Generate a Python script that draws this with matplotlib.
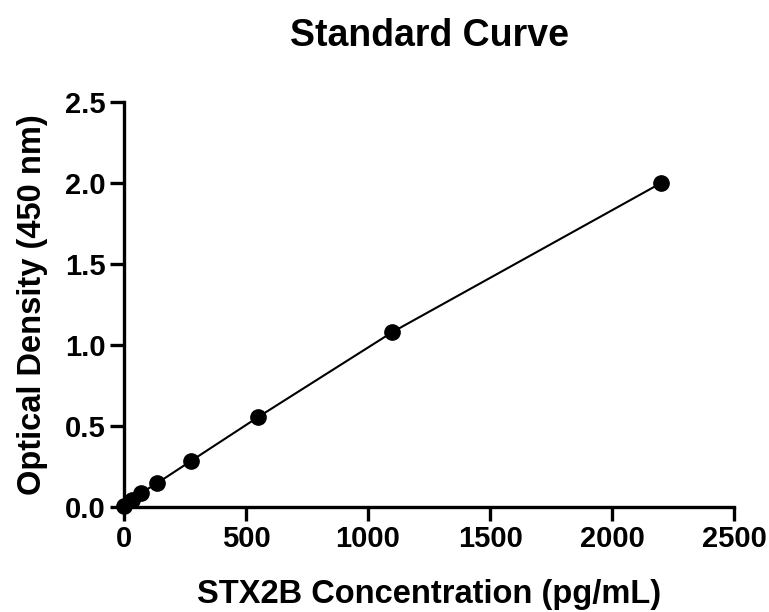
import matplotlib
matplotlib.use("Agg")
import matplotlib.pyplot as plt

# Standard dilution series (pg/mL) and measured OD at 450 nm
concentration = [0, 34.375, 68.75, 137.5, 275, 550, 1100, 2200]
optical_density = [0.005, 0.045, 0.085, 0.148, 0.284, 0.555, 1.08, 2.0]

x_ticks = [0, 500, 1000, 1500, 2000, 2500]
y_ticks = [0.0, 0.5, 1.0, 1.5, 2.0, 2.5]

plt.rcParams["font.family"] = ["Liberation Sans", "DejaVu Sans"]
plt.rcParams["font.weight"] = "bold"

fig = plt.figure(figsize=(7.69, 6.12), dpi=100)
ax = fig.add_axes([0.161, 0.1716, 0.794, 0.6617])

ax.plot(concentration, optical_density, color="black", linewidth=1.5, zorder=2)
ax.plot(concentration, optical_density, "o", color="black", markersize=11, zorder=3,
        clip_on=False)

ax.set_xlim(0, 2500)
ax.set_ylim(0, 2.5)
ax.set_xticks(x_ticks)
ax.set_yticks(y_ticks)
ax.set_xticklabels([str(t) for t in x_ticks])
ax.set_yticklabels([f"{t:.1f}" for t in y_ticks])

for side in ("top", "right"):
    ax.spines[side].set_visible(False)
for side in ("left", "bottom"):
    ax.spines[side].set_linewidth(2.4)
ax.tick_params(width=2.4, length=10, labelsize=21, pad=3)
for lab in ax.get_xticklabels() + ax.get_yticklabels():
    lab.set_fontweight("bold")

ax.set_title("Standard Curve", fontsize=27, fontweight="bold", pad=40)
ax.set_xlabel("STX2B Concentration (pg/mL)", fontsize=23.5, fontweight="bold", labelpad=19)
ax.set_ylabel("Optical Density (450 nm)", fontsize=23.5, fontweight="bold", labelpad=12)

fig.savefig("out.png", dpi=100)
